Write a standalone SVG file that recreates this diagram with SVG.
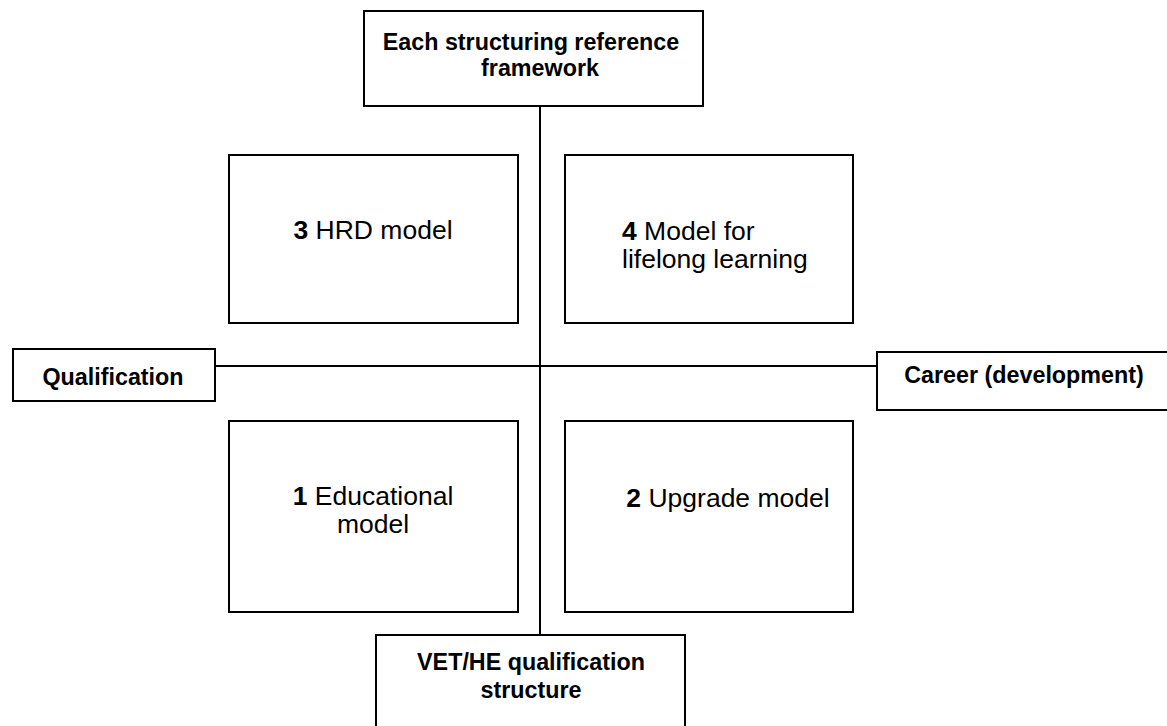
<svg xmlns="http://www.w3.org/2000/svg" width="1167" height="726" viewBox="0 0 1167 726">
<style>
.box{fill:#fff;stroke:#000;stroke-width:2}
.line{stroke:#000;stroke-width:2;fill:none}
.b{font-family:"Liberation Sans",Arial,sans-serif;font-weight:bold;font-size:23.3px;fill:#000}
.r{font-family:"Liberation Sans",Arial,sans-serif;font-size:26.5px;fill:#000}
.r tspan.n{font-weight:bold}
</style>
<rect width="1167" height="726" fill="#fff"/>
<g id="connectors">
<line class="line" x1="540" y1="106" x2="540" y2="635"/>
<line class="line" x1="215" y1="366" x2="877" y2="366"/>
</g>
<g id="top">
<rect class="box" x="364" y="11" width="339" height="95"/>
<text class="b" x="531" y="50" text-anchor="middle">Each structuring reference</text>
<text class="b" x="540" y="76" text-anchor="middle">framework</text>
</g>
<g id="bottom">
<rect class="box" x="376" y="635" width="309" height="100"/>
<text class="b" x="531" y="670" text-anchor="middle">VET/HE qualification</text>
<text class="b" x="531" y="698" text-anchor="middle">structure</text>
</g>
<g id="left">
<rect class="box" x="13" y="349" width="202" height="52"/>
<text class="b" x="113" y="385" text-anchor="middle">Qualification</text>
</g>
<g id="right">
<rect class="box" x="877" y="352" width="300" height="58"/>
<text class="b" x="1024" y="383" text-anchor="middle">Career (development)</text>
</g>
<g id="q3">
<rect class="box" x="229" y="155" width="289" height="168"/>
<text class="r" x="373" y="239" text-anchor="middle"><tspan class="n">3</tspan> HRD model</text>
</g>
<g id="q4">
<rect class="box" x="565" y="155" width="288" height="168"/>
<text class="r" x="622" y="240"><tspan class="n">4</tspan> Model for</text>
<text class="r" x="622" y="268">lifelong learning</text>
</g>
<g id="q1">
<rect class="box" x="229" y="421" width="289" height="191"/>
<text class="r" x="373" y="505" text-anchor="middle"><tspan class="n">1</tspan> Educational</text>
<text class="r" x="373" y="533" text-anchor="middle">model</text>
</g>
<g id="q2">
<rect class="box" x="565" y="421" width="288" height="191"/>
<text class="r" x="728" y="507" text-anchor="middle"><tspan class="n">2</tspan> Upgrade model</text>
</g>
</svg>
